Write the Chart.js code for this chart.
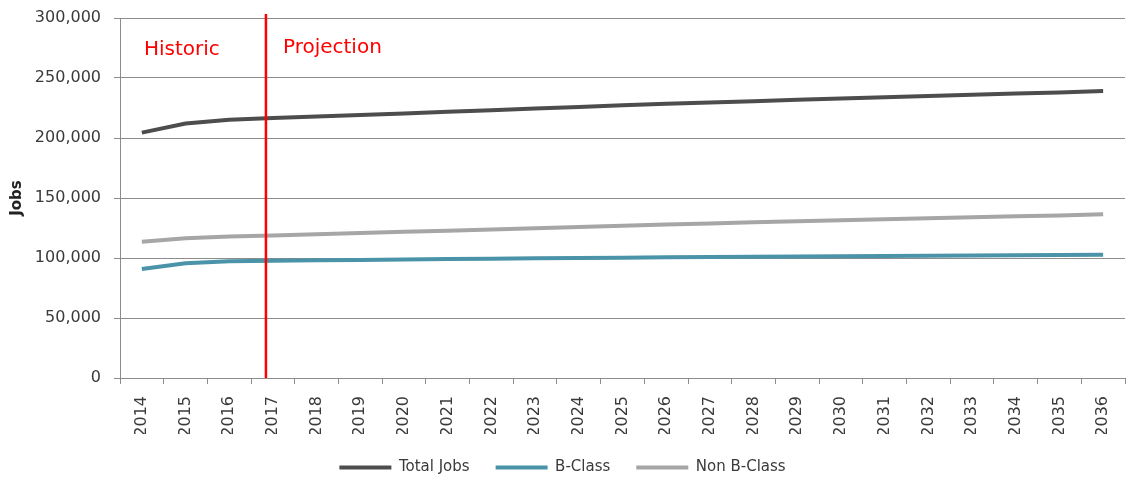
<!DOCTYPE html>
<html>
<head>
<meta charset="utf-8">
<title>Jobs projection</title>
<script src="https://cdn.jsdelivr.net/npm/chart.js@4.4.1/dist/chart.umd.min.js"></script>
<style>
    html, body { margin: 0; padding: 0; background: #ffffff; }
    #wrap { width: 1129px; height: 477px; }
</style>
</head>
<body>
<div id="wrap"><canvas id="jobsChart" width="1129" height="477"></canvas></div>
<script>
// Data
const years = ['2014', '2015', '2016', '2017', '2018', '2019', '2020', '2021', '2022', '2023', '2024',
    '2025', '2026', '2027', '2028', '2029', '2030', '2031', '2032', '2033', '2034', '2035', '2036'];

const totalJobs = [204500, 212000, 215200, 216600, 217900, 219200, 220500, 221900, 223200, 224500, 225900,
    227200, 228500, 229600, 230700, 231900, 233000, 234000, 235000, 236000, 237000, 238000, 239200];

const bClass = [90900, 95600, 97300, 97800, 98100, 98400, 98700, 99100, 99400, 99700, 100000,
    100300, 100600, 100800, 101000, 101300, 101500, 101700, 101900, 102100, 102300, 102500, 102800];

const nonBClass = [113600, 116400, 117900, 118800, 119800, 120800, 121800, 122800, 123800, 124800, 125900,
    126900, 127900, 128800, 129700, 130600, 131500, 132300, 133100, 133900, 134700, 135500, 136400];

const yTicks = { min: 0, max: 300000, step: 50000 };

// where the projection period starts (category index on the x axis)
const projectionStart = 2.84;

const FONT = "'DejaVu Sans', sans-serif";
const GRID = '#8c8c8c';
const TEXT = '#3a3a3a';

// Historic / Projection divider
const dividerPlugin = {
    id: 'divider',
    afterDatasetsDraw(chart) {
        const { ctx, chartArea, scales } = chart;
        const x = scales.x.getPixelForValue(projectionStart);
        ctx.save();
        ctx.strokeStyle = '#ff0000';
        ctx.lineWidth = 2.5;
        ctx.beginPath();
        ctx.moveTo(x, chartArea.top - 4);
        ctx.lineTo(x, chartArea.bottom);
        ctx.stroke();

        ctx.fillStyle = '#ff0000';
        ctx.font = '20px ' + FONT;
        ctx.textBaseline = 'alphabetic';
        ctx.textAlign = 'left';
        ctx.fillText('Historic', chartArea.left + 24, chartArea.top + 37);
        ctx.fillText('Projection', x + 17, chartArea.top + 35);
        ctx.restore();
    }
};

function initChart() {
    const ctx = document.getElementById('jobsChart').getContext('2d');
    return new Chart(ctx, {
        type: 'line',
        data: {
            labels: years,
            datasets: [
                {
                    label: 'Total Jobs',
                    data: totalJobs,
                    borderColor: '#4d4d4d',
                    backgroundColor: '#4d4d4d',
                    borderWidth: 4,
                    pointRadius: 0,
                    tension: 0
                },
                {
                    label: 'B-Class',
                    data: bClass,
                    borderColor: '#4b93a8',
                    backgroundColor: '#4b93a8',
                    borderWidth: 4,
                    pointRadius: 0,
                    tension: 0
                },
                {
                    label: 'Non B-Class',
                    data: nonBClass,
                    borderColor: '#a6a6a6',
                    backgroundColor: '#a6a6a6',
                    borderWidth: 4,
                    pointRadius: 0,
                    tension: 0
                }
            ]
        },
        options: {
            responsive: false,
            animation: false,
            devicePixelRatio: 1,
            layout: { padding: { top: 18, right: 4, left: 0, bottom: -8 } },
            plugins: {
                tooltip: { enabled: false },
                legend: {
                    position: 'bottom',
                    labels: {
                        usePointStyle: true,
                        pointStyle: 'line',
                        pointStyleWidth: 52,
                        padding: 26,
                        color: TEXT,
                        font: { family: FONT, size: 15 }
                    }
                }
            },
            scales: {
                x: {
                    offset: true,
                    afterFit(scale) {
                        scale.height = 56;
                        scale.paddingLeft = 0;
                        scale.paddingRight = 0;
                    },
                    grid: { offset: true, drawOnChartArea: false, drawTicks: true, tickLength: 6, color: GRID },
                    border: { color: GRID },
                    ticks: {
                        autoSkip: false,
                        minRotation: 90,
                        maxRotation: 90,
                        padding: 12,
                        color: TEXT,
                        font: { family: FONT, size: 16 }
                    }
                },
                y: {
                    min: yTicks.min,
                    max: yTicks.max,
                    afterFit(scale) {
                        scale.width = 120;
                        // the label gap should not push the plot area in
                        scale.paddingTop = 10;
                        scale.paddingBottom = 10;
                    },
                    grid: { color: GRID, tickLength: 6 },
                    border: { color: GRID },
                    ticks: {
                        stepSize: yTicks.step,
                        padding: 13,
                        color: TEXT,
                        font: { family: FONT, size: 16 },
                        callback: v => v.toLocaleString('en-US')
                    },
                    title: {
                        display: true,
                        text: 'Jobs',
                        color: '#222222',
                        padding: { top: 8, bottom: 0 },
                        font: { family: FONT, size: 15, weight: 'bold' }
                    }
                }
            }
        },
        plugins: [dividerPlugin]
    });
}

window.addEventListener('DOMContentLoaded', () => {
    initChart();
});
</script>
</body>
</html>
